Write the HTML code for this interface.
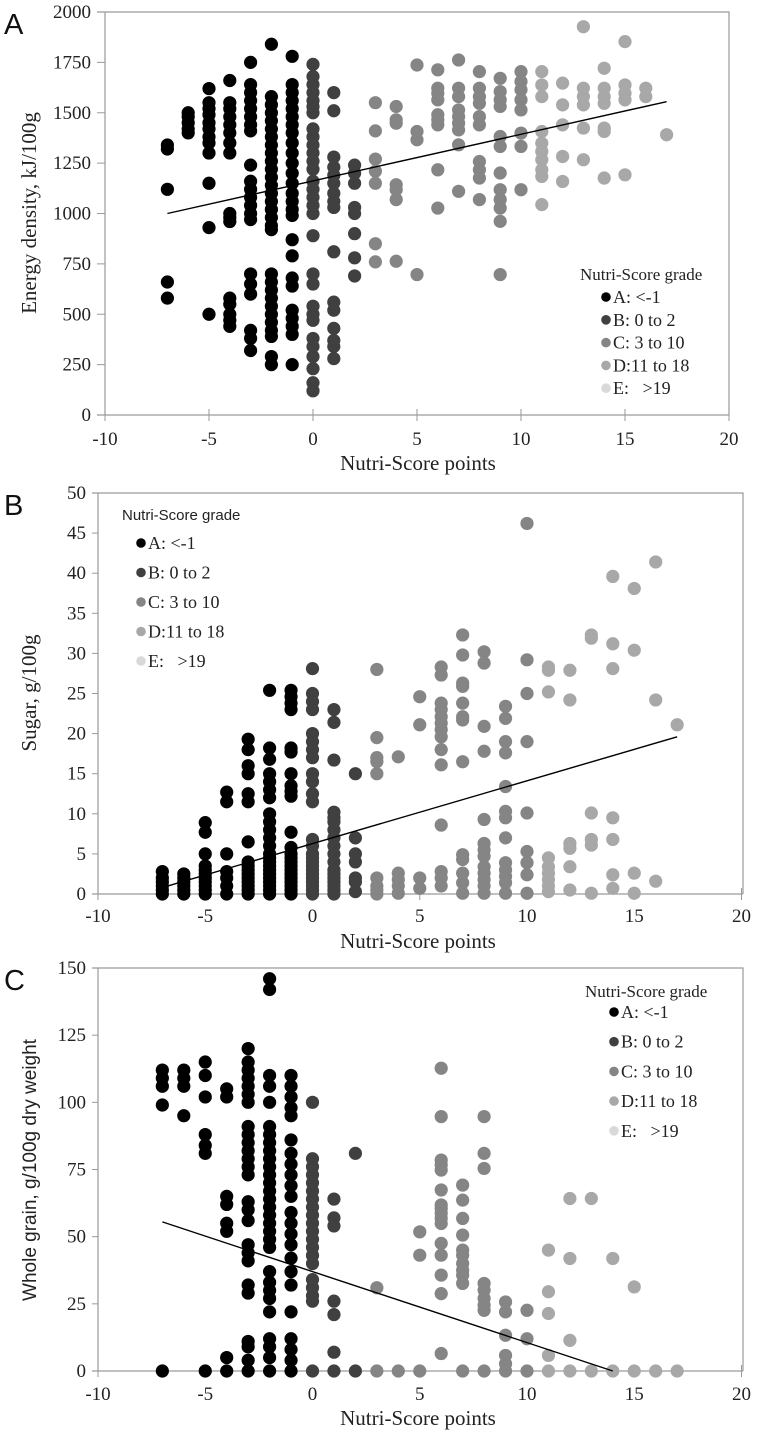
<!DOCTYPE html>
<html><head><meta charset="utf-8"><style>
html,body{margin:0;padding:0;background:#fff;}
svg{display:block;}
text{white-space:pre;}
</style></head><body>
<svg id="chart" width="757" height="1431" viewBox="0 0 757 1431" xmlns="http://www.w3.org/2000/svg"></svg>
<script>
// ---------- data: [x, [y values...]] columns per grade ----------
const gradeColors = ["#000000","#404040","#858585","#a8a8a8","#d9d9d9"];
const legendLabels = ["A: <-1","B: 0 to 2","C: 3 to 10","D:11 to 18","E:   >19"];
const xTicks = [-10,-5,0,5,10,15,20];

const energyA = [[-7,[1340,1320,1120,660,580]],[-6,[1500,1480,1450,1420,1400]],[-5,[1620,1550,1520,1490,1450,1420,1380,1350,1300,1150,930,500]],[-4,[1660,1550,1520,1480,1440,1400,1350,1300,1000,980,960,580,550,500,470,440]],[-3,[1750,1640,1600,1560,1520,1480,1440,1410,1240,1160,1120,1080,1040,1000,970,700,650,600,420,380,320]],[-2,[1840,1580,1540,1500,1460,1420,1380,1340,1300,1260,1220,1180,1140,1100,1060,1020,980,940,920,700,660,620,580,540,500,460,420,390,290,250]],[-1,[1780,1640,1600,1560,1520,1480,1440,1400,1350,1300,1250,1200,1150,1100,1060,1020,990,870,790,680,640,520,480,440,400,250]]];
const energyB = [[0,[1740,1680,1640,1600,1560,1530,1500,1420,1380,1340,1300,1260,1220,1160,1120,1080,1040,1000,890,700,650,540,500,470,380,340,290,230,160,120]],[1,[1600,1510,1280,1230,1190,1150,1100,1060,1030,810,560,520,430,370,340,280]],[2,[1240,1200,1150,1030,1000,900,780,690]]];
const energyC = [[3,[1550,1410,1270,1210,1150,850,760]],[4,[1531,1465,1448,1143,1118,1069,763]],[5,[1737,1407,1366,697]],[6,[1713,1622,1597,1564,1490,1465,1440,1217,1027]],[7,[1762,1622,1580,1514,1481,1448,1415,1341,1110]],[8,[1704,1622,1580,1547,1481,1440,1258,1217,1176,1069]],[9,[1671,1605,1564,1531,1382,1333,1201,1118,1069,1027,961,697]],[10,[1704,1655,1614,1564,1514,1399,1333,1118]]];
const energyD = [[11,[1704,1638,1580,1407,1349,1308,1267,1217,1184,1044]],[12,[1647,1539,1440,1283,1159]],[13,[1927,1622,1580,1539,1424,1267]],[14,[1721,1622,1580,1547,1424,1407,1176]],[15,[1853,1638,1597,1564,1192]],[16,[1622,1580]],[17,[1391]]];
const energyTrend = [[-7,1000],[17,1555]];
const energyYTicks = [0,250,500,750,1000,1250,1500,1750,2000];

const sugarA = [[-7,[2.8,2,1.5,1,0.5,0]],[-6,[2.5,2,1.5,1,0.5,0]],[-5,[8.9,7.7,5,3.5,3,2.5,2,1.5,1,0.5,0]],[-4,[12.7,11.5,5,2.8,2,1,0]],[-3,[19.3,18,16,15,12.5,11.5,6.5,4,3.5,3,2.5,2,1.5,1,0.5,0]],[-2,[25.4,18.2,16.8,15,14,13,12,10,9,8,7,6,5,4.5,4,3.5,3,2.5,2,1.5,1,0.5,0]],[-1,[25.4,24.6,23.8,23,18.2,17.7,15,13.5,12.8,12.2,7.7,5.8,5,4.5,4,3.5,3,2.5,2,1.5,1,0.5,0]]];
const sugarB = [[0,[28.1,25,24,23,20,19,18,17,15,14,12.5,11.5,6.8,6,5,4.5,4,3.5,3,2.5,2,1.5,1,0.5,0]],[1,[23,21.4,16.7,10.2,9.5,9,8,7,6,5,4,3,2.5,2,1.5,1,0.5,0]],[2,[15,7,5,4,2,1.5,0.3]]];
const sugarC = [[3,[28,19.5,17,16.5,15,2,1,0.5,0]],[4,[17.1,2.6,1.8,1,0.1]],[5,[24.6,21.1,2,0.7]],[6,[28.3,27.3,23.8,23,22.1,21.3,20.5,19.6,18,16.1,8.6,2.8,2,1]],[7,[32.3,29.8,26.3,25.9,23.8,22.1,21.7,16.5,4.9,4.3,2.6,1.4,0.1]],[8,[30.2,28.8,20.9,17.8,9.3,6.3,5.5,4.7,3.4,2.6,1.8,1,0.1]],[9,[23.4,21.9,19,17.6,13.4,10.3,9.5,7,3.9,3,2.2,1.4,0.1]],[10,[46.2,29.2,25,19,10.1,5.3,3.9,2.4,0.1]]];
const sugarD = [[11,[28.3,27.9,25.2,4.5,3.4,2.6,1.8,1,0.3]],[12,[27.9,24.2,6.3,5.7,3.4,0.5]],[13,[32.3,31.9,10.1,6.8,6.1,0.1]],[14,[39.6,31.2,28.1,9.5,6.8,2.4,0.7]],[15,[38.1,30.4,2.6,0.1]],[16,[41.4,24.2,1.6]],[17,[21.1]]];
const sugarTrend = [[-7,0.8],[17,19.6]];
const sugarYTicks = [0,5,10,15,20,25,30,35,40,45,50];

const grainA = [[-7,[112,109,106,99,0]],[-6,[112,109,106,95]],[-5,[115,110,102,88,84,81,0]],[-4,[105,102,65,62,55,52,5,0]],[-3,[120,115,112,109,106,103,100,91,88,85,82,79,76,73,63,60,56,47,44,41,32,29,11,9,4,0]],[-2,[146,142,110,106,100,91,88,85,82,79,76,73,70,67,64,61,58,55,52,49,46,37,33,30,27,22,12,9,5,0]],[-1,[110,106,102,98,95,86,81,77,73,69,65,59,55,51,47,42,37,32,22,12,8,4,0]]];
const grainB = [[0,[100,79,76,73,70,67,64,61,58,55,52,49,46,43,40,34,31,28,26,0]],[1,[64,57,54,26,21,7,0]],[2,[81,0]]];
const grainC = [[3,[31,0]],[4,[0]],[5,[51.8,43.1,0]],[6,[112.7,94.7,78.5,76.7,74.8,67.4,61.8,60.5,58.7,56.8,54.9,47.5,43.1,35.7,28.8,6.5]],[7,[69.2,63.6,56.8,50.6,45,43.1,40,37.5,35.7,32.6,0]],[8,[94.7,81,75.4,32.6,30.1,27,24.5,22.6,0]],[9,[25.7,22,13.3,5.8,2.7,0]],[10,[22.6,12,0]]];
const grainD = [[11,[45,29.5,21.4,5.8,0]],[12,[64.2,41.9,11.4,0]],[13,[64.2,0]],[14,[41.9,0]],[15,[31.3,0]],[16,[0]],[17,[0]]];
const grainTrend = [[-7,55.5],[14,0]];
const grainYTicks = [0,25,50,75,100,125,150];

// ---------- drawing ----------
const NS="http://www.w3.org/2000/svg";
const SERIF='"Liberation Serif", serif';
const SANS='"Liberation Sans", sans-serif';
const svg=document.getElementById('chart');
function mk(tag,attrs,parent){const e=document.createElementNS(NS,tag);for(const k in attrs)e.setAttribute(k,attrs[k]);(parent||svg).appendChild(e);return e;}

const panels=[
 {id:'a',letter:'A',x0:313,xs:20.8,yTop:12,yBot:415,yMax:2000,right:729,leftTick:97,
  series:[energyA,energyB,energyC,energyD],trend:energyTrend,yt:energyYTicks,
  ytitle:'Energy density, kJ/100g',ytSans:false,ytitleY:213,tickY:445,titleY:470,
  leg:{tx:580,ty:280,mx:606,y0:297,dy:22.8,sans:false}},
 {id:'b',letter:'B',x0:312.5,xs:21.45,yTop:493,yBot:894,yMax:50,right:743,leftTick:92,
  series:[sugarA,sugarB,sugarC,sugarD],trend:sugarTrend,yt:sugarYTicks,
  ytitle:'Sugar, g/100g',ytSans:false,ytitleY:693,tickY:922,titleY:948,
  leg:{tx:122,ty:520,mx:141,y0:543,dy:29.5,sans:true}},
 {id:'c',letter:'C',x0:312.5,xs:21.45,yTop:968,yBot:1371,yMax:150,right:743,leftTick:92,
  series:[grainA,grainB,grainC,grainD],trend:grainTrend,yt:grainYTicks,
  ytitle:'Whole grain, g/100g dry weight',ytSans:true,ytitleY:1170,tickY:1400,titleY:1425,
  leg:{tx:585,ty:997,mx:614,y0:1012,dy:29.7,sans:false}}
];

panels.forEach(p=>{
  const g=mk('g',{});
  
  
  const X=v=>p.x0+v*p.xs;
  const Y=v=>p.yBot-(v/p.yMax)*(p.yBot-p.yTop);
  const xL=X(-10);
  const fr=mk('path',{d:`M${p.leftTick} ${p.yTop}H${p.right}V${p.yBot}M${xL} ${p.yTop}V${p.yBot}M${p.leftTick} ${p.yBot}H${p.right}`,stroke:'#9a9a9a','stroke-width':1.2,fill:'none'},g);
  
  
  p.yt.forEach(v=>{
    const y=Y(v);
    mk('line',{x1:p.leftTick,x2:xL,y1:y,y2:y,stroke:'#9a9a9a','stroke-width':1},g);
    const t=mk('text',{x:p.leftTick-6,y:y+6,'text-anchor':'end','font-family':SERIF,'font-size':19,fill:'#222'},g);
    t.textContent=v;
    
    
  });
  xTicks.forEach(v=>{
    const x=X(v);
    mk('line',{x1:x,x2:x,y1:p.yBot-6,y2:p.yBot+6,stroke:'#9a9a9a','stroke-width':1},g);
    const t=mk('text',{x:x,y:p.tickY,'text-anchor':'middle','font-family':SERIF,'font-size':19,fill:'#222'},g);
    t.textContent=v;
    
    
  });
  p.series.forEach((ser,gi)=>{
    ser.forEach(col=>{
      col[1].forEach(v=>{
        const c=mk('circle',{cx:X(col[0]),cy:Y(v),r:6.6,fill:gradeColors[gi]},g);
        
        
      });
    });
  });
  const tl=mk('line',{x1:X(p.trend[0][0]),y1:Y(p.trend[0][1]),x2:X(p.trend[1][0]),y2:Y(p.trend[1][1]),stroke:'#000','stroke-width':1.4},g);
  
  
  const yt=mk('text',{x:0,y:0,transform:`translate(36,${p.ytitleY}) rotate(-90)`,'text-anchor':'middle','font-family':p.ytSans?SANS:SERIF,'font-size':p.ytSans?19:21,fill:'#222'},g);
  yt.textContent=p.ytitle;
  
  
  const xt=mk('text',{x:418,y:p.titleY,'text-anchor':'middle','font-family':SERIF,'font-size':21,fill:'#222'},g);
  xt.textContent='Nutri-Score points';
  
  
  const lt=mk('text',{x:4,y:p.yTop+22,'font-family':SANS,'font-size':29,fill:'#111'},g);
  lt.textContent=p.letter;
  
  
  const L=p.leg;
  const lg=mk('g',{},g);
  
  
  const lh=mk('text',{x:L.tx,y:L.ty,'font-family':L.sans?SANS:SERIF,'font-size':L.sans?15:17,fill:'#222'},lg);
  lh.textContent='Nutri-Score grade';
  
  
  legendLabels.forEach((lab,i)=>{
    const y=L.y0+i*L.dy;
    const m=mk('circle',{cx:L.mx,cy:y,r:4.8,fill:gradeColors[i]},lg);
    
    
    const t=mk('text',{x:L.mx+7,y:y+6,'font-family':SERIF,'font-size':18,fill:'#222','xml:space':'preserve'},lg);
    t.textContent=lab;
    
    
  });
});
</script>
</body></html>
